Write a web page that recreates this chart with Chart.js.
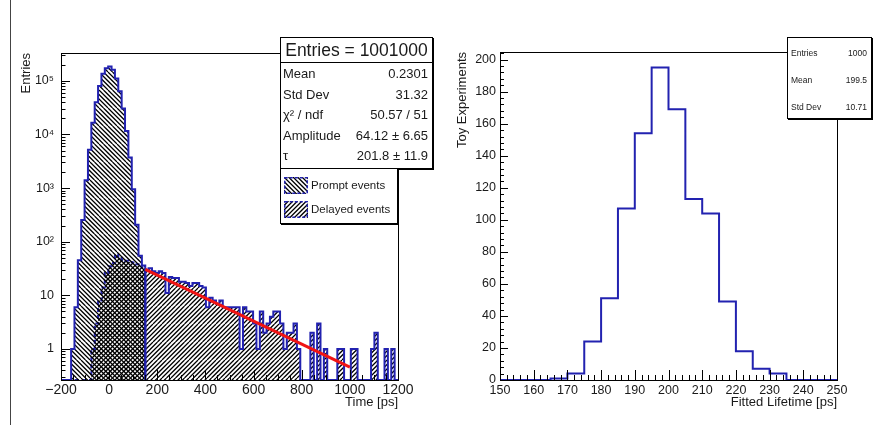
<!DOCTYPE html>
<html>
<head>
<meta charset="utf-8">
<script src="https://cdn.jsdelivr.net/npm/chart.js@4.4.1/dist/chart.umd.min.js"></script>
<style>
  html, body { margin: 0; padding: 0; background: #fff; }
  #page { position: relative; width: 881px; height: 425px; overflow: hidden; font-family: "Liberation Sans", Arial, sans-serif; color: #1a1a1a; }
  #sep { position: absolute; left: 10px; top: 0; width: 1px; height: 425px; background: #444; }
  canvas.panel { position: absolute; top: 0; }
  #cvTime { left: 0; }
  #cvLife { left: 440px; }
  .pave { position: absolute; background: #fff; border: 1px solid #000; box-shadow: 1px 1px 0 #000; box-sizing: border-box; }
  .row { position: absolute; left: 0; right: 0; white-space: nowrap; }
  .row .k { position: absolute; }
  .row .v { position: absolute; }
  .head { position: absolute; left: 0; right: 0; top: 0; height: 24px; line-height: 24px; text-align: center; font-size: 17.5px; border-bottom: 1px solid #000; }
  .swatch { position: absolute; left: 3px; width: 24px; height: 17px; }
  .lgtext { position: absolute; left: 30px; font-size: 11.5px; }
</style>
</head>
<body>
<div id="page">
  <div id="sep"></div>
  <canvas id="cvTime" class="panel" width="440" height="425"></canvas>
  <canvas id="cvLife" class="panel" width="441" height="425"></canvas>

  <div id="statsTime" class="pave" style="left:280px; top:37px; width:153px; height:132px;">
    <div class="head">Entries = 1001000</div>
  </div>
  <div id="legendTime" class="pave" style="left:280px; top:168px; width:118px; height:56px;"></div>
  <div id="statsLife" class="pave" style="left:787px; top:37px; width:85px; height:82px;"></div>
</div>

<script>
// time spectrum, 14 ps bins
const timeLow = -200;
const timeBin = 14;
// bins from -200 to 150 ps
const promptCounts = [0, 0, 0, 1, 6, 45, 254, 1400, 5200, 16500,
  40000, 80000, 135000, 172000, 185000, 160000, 110000, 64000, 30500, 11600,
  3700, 950, 207, 55, 36];
const delayedCounts = [0, 0, 0, 0, 0, 0, 0, 0, 0, 1,
  3, 8, 14, 26, 35, 40, 58, 50, 46, 44,
  42, 41, 38, 36, 33];
// bins from 150 to 1200 ps
const tailLow = 150;
const tailCounts = [30, 32, 28, 26, 28, 26, 11, 22, 21, 21,
  18, 18, 17, 15, 17, 17, 15, 14, 6, 9,
  8, 7, 8, 6, 6, 6, 6, 6, 1, 6,
  5, 5, 3, 1, 5, 2, 3, 4, 5, 5,
  3, 1, 2, 2, 3, 1, 0, 0, 0, 2,
  0, 3, 0, 1, 0, 0, 0, 1, 1, 0,
  0, 1, 1, 0, 0, 0, 0, 1, 2, 0,
  0, 1, 0, 1, 0];
// exponential fit, straight on the log axis
const fitTimes = [150, 1000];
const fitValues = [30.5, 0.46];

const timeAxis = [-200, 1200];
const entriesAxis = [0.264, 3.3e5];
const timeTicks = [-200, 0, 200, 400, 600, 800, 1000, 1200];
const entryTicks = [1, 10, 100, 1000, 10000, 100000];
const entryTickLabels = ['1', '10', '10²', '10³', '10⁴', '10⁵'];

const statsTime = [
  ['Mean', '0.2301'],
  ['Std Dev', '31.32'],
  ['χ² / ndf', '50.57 / 51'],
  ['Amplitude', '64.12 ± 6.65'],
  ['τ', '201.8 ± 11.9']
];
const legendTime = [['Prompt events', '\\'], ['Delayed events', '/']];

// fitted lifetimes from toy experiments, 5 ps bins
const lifeLow = 150;
const lifeBin = 5;
const lifeCounts = [0, 0, 0, 1, 4, 24, 51, 107, 154, 195,
  169, 113, 104, 49, 18, 7, 4, 0, 0, 0];
const lifeAxis = [150, 250];
const toyAxis = [0, 204.75];
const lifeTicks = [150, 160, 170, 180, 190, 200, 210, 220, 230, 240, 250];
const toyTicks = [0, 20, 40, 60, 80, 100, 120, 140, 160, 180, 200];
const statsLife = [['Entries', '1000'], ['Mean', '199.5'], ['Std Dev', '10.71']];

const BLUE = '#2222b0';
const FONT = '"Liberation Sans", "DejaVu Sans", sans-serif';
Chart.defaults.font.family = FONT;
Chart.defaults.color = '#1a1a1a';

// diagonal hatch tile, '/' or '\'
function hatch(ctx, dir) {
  const size = 18, gap = 4.5;
  const tile = document.createElement('canvas');
  tile.width = tile.height = size;
  const g = tile.getContext('2d');
  g.strokeStyle = '#000';
  g.lineWidth = 1.25;
  g.beginPath();
  for (let k = -size; k <= 2 * size; k += gap) {
    if (dir === '/') { g.moveTo(k, size); g.lineTo(k + size, 0); }
    else { g.moveTo(k, 0); g.lineTo(k + size, size); }
  }
  g.stroke();
  return ctx.createPattern(tile, 'repeat');
}

// step outline points: one per bin low edge, closed down to the floor at both ends
function histPoints(low, width, counts, floor) {
  const pts = [{ x: low, y: floor }];
  counts.forEach((c, i) => pts.push({ x: low + i * width, y: c > 0 ? c : floor }));
  pts.push({ x: low + counts.length * width, y: floor });
  return pts;
}

function linearMarks(min, max, step, majors) {
  const out = [];
  const n = Math.round((max - min) / step);
  for (let i = 0; i <= n; i++) {
    const v = min + i * step;
    out.push({ v, major: majors.some(m => Math.abs(m - v) < 1e-6) });
  }
  return out;
}

function logMarks(min, max) {
  const out = [];
  for (let e = Math.floor(Math.log10(min)); e <= Math.ceil(Math.log10(max)); e++) {
    for (let k = 1; k <= 9; k++) {
      const v = k * Math.pow(10, e);
      if (v >= min && v <= max) out.push({ v, major: k === 1 });
    }
  }
  return out;
}

// frame plus inward tick marks
const frameTicks = {
  id: 'frameTicks',
  afterDraw(chart, args, opts) {
    const { ctx, chartArea: a } = chart;
    const xs = chart.scales.x, ys = chart.scales.y;
    ctx.save();
    ctx.strokeStyle = '#000';
    ctx.lineWidth = 1;
    ctx.beginPath();
    opts.xMarks.forEach(m => {
      const px = Math.round(xs.getPixelForValue(m.v)) + 0.5;
      const len = m.major ? opts.xLen[0] : opts.xLen[1];
      ctx.moveTo(px, a.bottom);
      ctx.lineTo(px, a.bottom - len);
    });
    opts.yMarks.forEach(m => {
      const py = Math.round(ys.getPixelForValue(m.v)) + 0.5;
      const len = m.major ? opts.yLen[0] : opts.yLen[1];
      ctx.moveTo(a.left, py);
      ctx.lineTo(a.left + len, py);
    });
    ctx.stroke();
    ctx.strokeRect(Math.round(a.left) + 0.5, Math.round(a.top) + 0.5, Math.round(a.width), Math.round(a.height));
    ctx.restore();
  }
};

function renderTime() {
  const cv = document.getElementById('cvTime');
  const ctx = cv.getContext('2d');
  const floor = entriesAxis[0];
  new Chart(cv, {
    type: 'line',
    data: {
      datasets: [
        {
          label: 'fit',
          data: fitTimes.map((t, i) => ({ x: t, y: fitValues[i] })),
          borderColor: '#f01414', borderWidth: 3, pointRadius: 0, fill: false
        },
        {
          label: 'Prompt events',
          data: histPoints(timeLow, timeBin, promptCounts, floor),
          stepped: 'before', borderColor: BLUE, borderWidth: 2, pointRadius: 0,
          backgroundColor: hatch(ctx, '\\'), fill: 'start'
        },
        {
          label: 'Delayed events',
          data: histPoints(timeLow, timeBin, delayedCounts, floor),
          stepped: 'before', borderColor: BLUE, borderWidth: 2, borderDash: [4, 3], pointRadius: 0,
          backgroundColor: hatch(ctx, '/'), fill: 'start'
        },
        {
          label: 'tail',
          data: histPoints(tailLow, timeBin, tailCounts, floor),
          stepped: 'before', borderColor: BLUE, borderWidth: 2, pointRadius: 0,
          backgroundColor: hatch(ctx, '/'), fill: 'start'
        }
      ]
    },
    options: {
      responsive: false,
      animation: false,
      layout: { padding: { top: 53, right: 42, left: 0, bottom: 0 } },
      plugins: {
        legend: { display: false },
        tooltip: { enabled: false },
        frameTicks: {
          xMarks: linearMarks(timeAxis[0], timeAxis[1], 50, timeTicks),
          yMarks: logMarks(entriesAxis[0], entriesAxis[1]),
          xLen: [10, 5], yLen: [9, 4.5]
        }
      },
      scales: {
        x: {
          type: 'linear', min: timeAxis[0], max: timeAxis[1],
          afterBuildTicks: s => { s.ticks = timeTicks.map(v => ({ value: v })); },
          afterFit: s => { s.height = 45; },
          grid: { display: false, drawTicks: false }, border: { display: false },
          ticks: { padding: 2, maxRotation: 0, autoSkip: false, font: { size: 14 },
            callback: v => (v < 0 ? '−' + Math.abs(v) : String(v)) },
          title: { display: true, text: 'Time [ps]', align: 'end', font: { size: 13 }, padding: { top: 0, bottom: 15 } }
        },
        y: {
          type: 'logarithmic', min: entriesAxis[0], max: entriesAxis[1],
          afterBuildTicks: s => { s.ticks = entryTicks.map(v => ({ value: v })); },
          afterFit: s => { s.width = 61; },
          grid: { display: false, drawTicks: false }, border: { display: false },
          ticks: { padding: 7, autoSkip: false, font: { size: 12.5 },
            callback: v => entryTickLabels[entryTicks.indexOf(v)] },
          title: { display: true, text: 'Entries', align: 'end', font: { size: 13 }, padding: { top: 19, bottom: 0 } }
        }
      }
    },
    plugins: [frameTicks]
  });
}

function renderLife() {
  const cv = document.getElementById('cvLife');
  new Chart(cv, {
    type: 'line',
    data: {
      datasets: [{
        label: 'lifetime',
        data: histPoints(lifeLow, lifeBin, lifeCounts, 0),
        stepped: 'before', borderColor: BLUE, borderWidth: 2, pointRadius: 0, fill: false
      }]
    },
    options: {
      responsive: false,
      animation: false,
      layout: { padding: { top: 52, right: 44, left: 0, bottom: 0 } },
      plugins: {
        legend: { display: false },
        tooltip: { enabled: false },
        frameTicks: {
          xMarks: linearMarks(lifeAxis[0], lifeAxis[1], 2, lifeTicks),
          yMarks: linearMarks(toyAxis[0], 204, 4, toyTicks),
          xLen: [10, 5], yLen: [8, 4]
        }
      },
      scales: {
        x: {
          type: 'linear', min: lifeAxis[0], max: lifeAxis[1],
          afterBuildTicks: s => { s.ticks = lifeTicks.map(v => ({ value: v })); },
          afterFit: s => { s.height = 45; },
          grid: { display: false, drawTicks: false }, border: { display: false },
          ticks: { padding: 3, maxRotation: 0, autoSkip: false, font: { size: 12.5 } },
          title: { display: true, text: 'Fitted Lifetime [ps]', align: 'end', font: { size: 13 }, padding: { top: 0, bottom: 14.5 } }
        },
        y: {
          type: 'linear', min: toyAxis[0], max: toyAxis[1],
          afterBuildTicks: s => { s.ticks = toyTicks.map(v => ({ value: v })); },
          afterFit: s => { s.width = 60; },
          grid: { display: false, drawTicks: false }, border: { display: false },
          ticks: { padding: 4, autoSkip: false, font: { size: 12.5 } },
          title: { display: true, text: 'Toy Experiments', align: 'end', font: { size: 13 }, padding: { top: 15, bottom: 0 } }
        }
      }
    },
    plugins: [frameTicks]
  });
}

function renderStats(boxId, rows, opt) {
  const box = document.getElementById(boxId);
  rows.forEach(([k, v], i) => {
    const r = document.createElement('div');
    r.className = 'row';
    r.style.top = (opt.first + i * opt.step - opt.h / 2) + 'px';
    r.style.height = opt.h + 'px';
    r.style.lineHeight = opt.h + 'px';
    r.style.fontSize = opt.size + 'px';
    r.innerHTML = `<span class="k" style="left:${opt.padL}px">${k}</span><span class="v" style="right:${opt.padR}px">${v}</span>`;
    box.appendChild(r);
  });
}

function renderLegend() {
  const box = document.getElementById('legendTime');
  legendTime.forEach(([name, dir], i) => {
    const sw = document.createElement('canvas');
    sw.className = 'swatch';
    sw.width = 24; sw.height = 17;
    sw.style.top = (8 + i * 24) + 'px';
    const g = sw.getContext('2d');
    g.fillStyle = hatch(g, dir);
    g.fillRect(0, 0, 24, 17);
    g.strokeStyle = BLUE;
    g.lineWidth = 1.5;
    g.setLineDash([3, 2]);
    g.strokeRect(0.75, 0.75, 22.5, 15.5);
    box.appendChild(sw);

    const t = document.createElement('div');
    t.className = 'lgtext';
    t.style.top = (8 + i * 24) + 'px';
    t.style.lineHeight = '17px';
    t.textContent = name;
    box.appendChild(t);
  });
}

renderTime();
renderLife();
renderStats('statsTime', statsTime, { first: 36, step: 20.5, h: 20, size: 13, padL: 2, padR: 4 });
renderStats('statsLife', statsLife, { first: 15, step: 27, h: 14, size: 8.5, padL: 3, padR: 4 });
renderLegend();
</script>
</body>
</html>
